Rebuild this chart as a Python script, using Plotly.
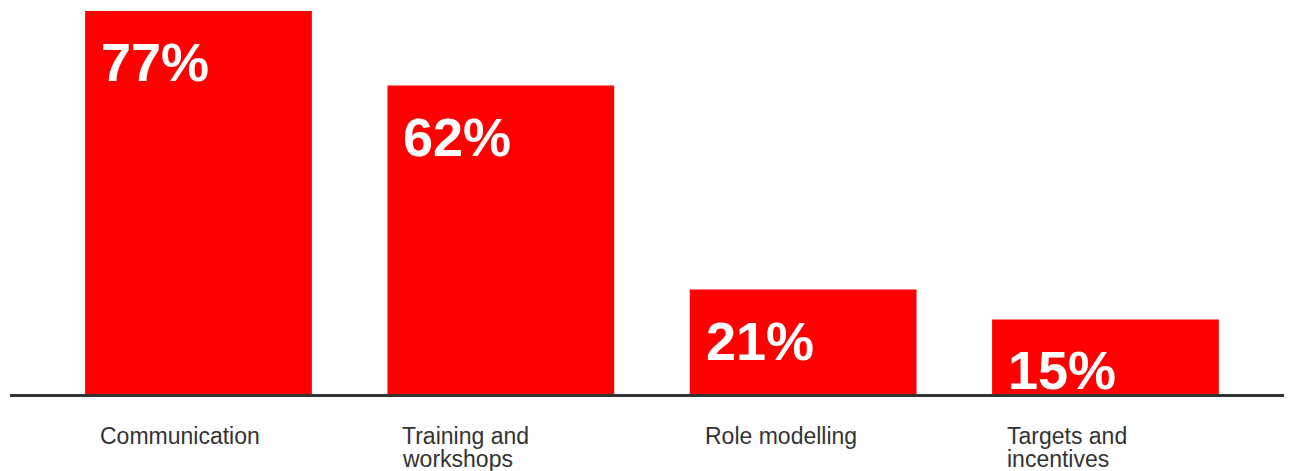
import plotly.graph_objects as go

categories = ["Communication", "Training and<br>workshops", "Role modelling", "Targets and<br>incentives"]
values = [77, 62, 21, 15]
value_labels = ["77%", "62%", "21%", "15%"]

BAR_W = 0.75
fig = go.Figure(go.Bar(
    x=list(range(len(categories))), y=values,
    width=BAR_W, marker=dict(color="#ff0000", line=dict(width=0)),
    hoverinfo="skip",
))

ann = []
for i, (v, lab, cat) in enumerate(zip(values, value_labels, categories)):
    ann.append(dict(x=i - BAR_W / 2, y=v, xref="x", yref="y", text=lab,
                    showarrow=False, xanchor="left", yanchor="top",
                    xshift=14, yshift=-19,
                    font=dict(family="Liberation Sans", size=54, color="white", weight="bold")))
    for j, line in enumerate(cat.split("<br>")):
        ann.append(dict(x=i - BAR_W / 2, y=0, xref="x", yref="y", text=line,
                        showarrow=False, xanchor="left", yanchor="top", align="left",
                        xshift=13, yshift=-27 - 23 * j,
                        font=dict(family="Liberation Sans", size=23, color="#333333")))

fig.update_layout(
    width=1284, height=463,
    margin=dict(l=2, r=0, t=0, b=77),
    paper_bgcolor="white", plot_bgcolor="white",
    showlegend=False,
    annotations=ann,
    xaxis=dict(range=[-0.6235, 3.617], showticklabels=False, showgrid=False,
               zeroline=False, showline=True, linecolor="#333333", linewidth=2.5,
               ticks=""),
    yaxis=dict(range=[0, 77.6], visible=False, showgrid=False, zeroline=False),
)

fig.write_html("out.html")
